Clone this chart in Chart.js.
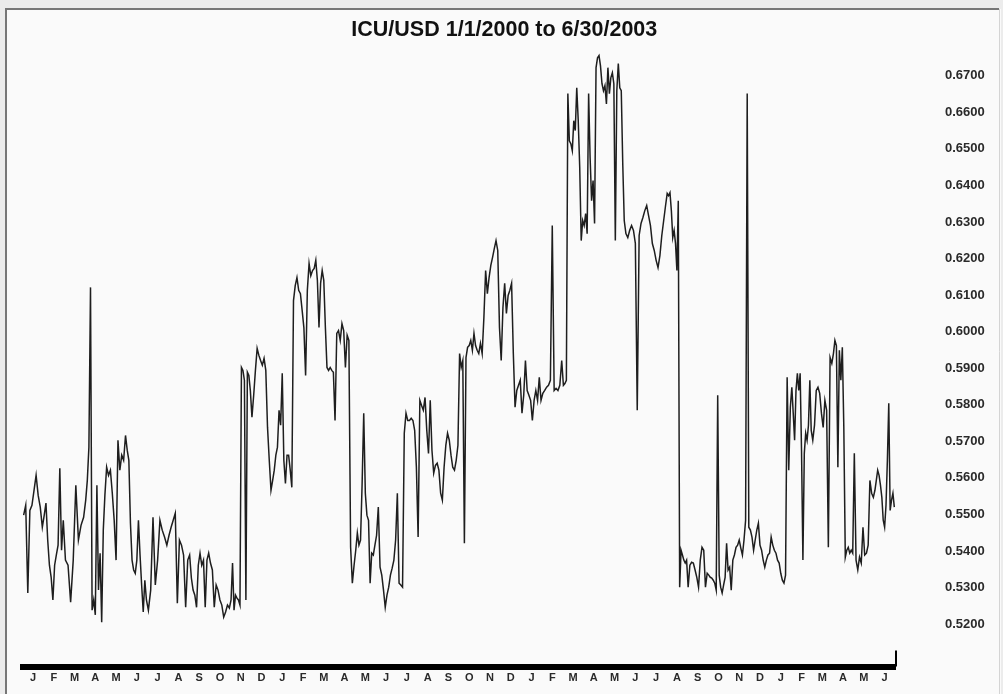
<!DOCTYPE html>
<html>
<head>
<meta charset="utf-8">
<script src="https://cdn.jsdelivr.net/npm/chart.js@4.4.1/dist/chart.umd.min.js"></script>
<style>
  html, body { margin: 0; padding: 0; background: #ececec; }
  canvas { display: block; }
</style>
</head>
<body>
<canvas id="icuChart" width="1003" height="694"></canvas>
<script>
// month initials along the bottom, Jan 2000 .. Jun 2003
const monthLabels = [
    'J', 'F', 'M', 'A', 'M', 'J', 'J', 'A', 'S', 'O', 'N', 'D',
    'J', 'F', 'M', 'A', 'M', 'J', 'J', 'A', 'S', 'O', 'N', 'D',
    'J', 'F', 'M', 'A', 'M', 'J', 'J', 'A', 'S', 'O', 'N', 'D',
    'J', 'F', 'M', 'A', 'M', 'J'
];

const yTickValues = [0.52, 0.53, 0.54, 0.55, 0.56, 0.57, 0.58, 0.59,
                     0.60, 0.61, 0.62, 0.63, 0.64, 0.65, 0.66, 0.67];

// ICU/USD quotes, one list per month, in date order
const rates2000 = [
    [0.5498, 0.5525, 0.5285, 0.5511, 0.5525, 0.5566, 0.5607, 0.5552, 0.5520, 0.5465],
    [0.5498, 0.5531, 0.5430, 0.5361, 0.5328, 0.5266, 0.5361, 0.5389, 0.5416, 0.5626, 0.5402, 0.5484],
    [0.5375, 0.5361, 0.5260, 0.5375, 0.5580, 0.5430, 0.5470, 0.5492],
    [0.5539, 0.5593, 0.5684, 0.6121, 0.5238, 0.5266, 0.5225, 0.5580, 0.5293, 0.5394, 0.5205, 0.5457, 0.5552],
    [0.5629, 0.5607, 0.5621, 0.5558, 0.5484, 0.5375, 0.5703, 0.5621, 0.5662, 0.5648, 0.5716],
    [0.5675, 0.5648, 0.5476, 0.5375, 0.5348, 0.5339, 0.5375, 0.5484, 0.5389, 0.5307, 0.5233, 0.5320, 0.5266],
    [0.5238, 0.5293, 0.5492, 0.5307, 0.5375, 0.5484, 0.5457, 0.5438, 0.5416],
    [0.5443, 0.5465, 0.5484, 0.5503, 0.5257, 0.5430, 0.5416, 0.5389, 0.5246, 0.5375],
    [0.5389, 0.5326, 0.5293, 0.5279, 0.5246, 0.5361, 0.5394, 0.5361, 0.5375, 0.5246, 0.5375, 0.5394],
    [0.5367, 0.5348, 0.5246, 0.5307, 0.5293, 0.5266, 0.5252, 0.5219, 0.5233, 0.5252, 0.5244],
    [0.5266, 0.5367, 0.5238, 0.5279, 0.5271, 0.5266, 0.5252, 0.5902, 0.5894, 0.5867, 0.5266, 0.5889, 0.5880, 0.5839],
    [0.5766, 0.5826, 0.5894, 0.5954, 0.5935, 0.5921, 0.5908, 0.5927, 0.5894, 0.5738, 0.5648, 0.5566]
];

const rates2001 = [
    [0.5593, 0.5621, 0.5662, 0.5684, 0.5785, 0.5744, 0.5886, 0.5648, 0.5585, 0.5662, 0.5662, 0.5621, 0.5574],
    [0.6085, 0.6126, 0.6148, 0.6113, 0.6104, 0.6058, 0.6011, 0.5880, 0.6113, 0.6186, 0.6153, 0.6167],
    [0.6173, 0.6195, 0.6140, 0.6011, 0.6132, 0.6167, 0.6140, 0.6011, 0.5902, 0.5894, 0.5902, 0.5894, 0.5889],
    [0.5757, 0.5995, 0.6003, 0.5976, 0.6022, 0.6003, 0.5902, 0.5990, 0.5976, 0.5410, 0.5312, 0.5361],
    [0.5402, 0.5449, 0.5416, 0.5430, 0.5585, 0.5777, 0.5558, 0.5498, 0.5484, 0.5312, 0.5394, 0.5389, 0.5416],
    [0.5443, 0.5520, 0.5356, 0.5334, 0.5293, 0.5246, 0.5279, 0.5301, 0.5334, 0.5353, 0.5375, 0.5430],
    [0.5558, 0.5312, 0.5307, 0.5301, 0.5722, 0.5777, 0.5757, 0.5757, 0.5763, 0.5757, 0.5730, 0.5629],
    [0.5438, 0.5812, 0.5798, 0.5785, 0.5820, 0.5730, 0.5667, 0.5812, 0.5675, 0.5613, 0.5634, 0.5640],
    [0.5621, 0.5558, 0.5539, 0.5629, 0.5689, 0.5722, 0.5703, 0.5662, 0.5629, 0.5621, 0.5648, 0.5689],
    [0.5940, 0.5902, 0.5921, 0.5421, 0.5929, 0.5957, 0.5962, 0.5976, 0.5949, 0.5995, 0.5962, 0.5949, 0.5940],
    [0.5968, 0.5940, 0.6039, 0.6167, 0.6104, 0.6148, 0.6181, 0.6203, 0.6227, 0.6249, 0.6222, 0.6011],
    [0.5921, 0.6066, 0.6132, 0.6050, 0.6099, 0.6113, 0.6132, 0.5940, 0.5793, 0.5839, 0.5853, 0.5867]
];

const rates2002 = [
    [0.5777, 0.5826, 0.5921, 0.5839, 0.5826, 0.5812, 0.5757, 0.5812, 0.5839, 0.5812, 0.5875, 0.5812],
    [0.5831, 0.5839, 0.5848, 0.5853, 0.5867, 0.6290, 0.5839, 0.5845, 0.5839, 0.5853, 0.5921],
    [0.5853, 0.5858, 0.5867, 0.6651, 0.6522, 0.6514, 0.6495, 0.6577, 0.6550, 0.6667, 0.6577, 0.6449, 0.6249, 0.6304],
    [0.6290, 0.6323, 0.6268, 0.6651, 0.6476, 0.6358, 0.6413, 0.6296, 0.6722, 0.6749, 0.6755, 0.6727, 0.6678, 0.6659],
    [0.6673, 0.6623, 0.6722, 0.6651, 0.6695, 0.6708, 0.6678, 0.6249, 0.6659, 0.6733, 0.6667, 0.6659, 0.6460, 0.6304],
    [0.6268, 0.6257, 0.6277, 0.6290, 0.6277, 0.6241, 0.5785, 0.6263, 0.6296, 0.6312, 0.6331],
    [0.6345, 0.6317, 0.6290, 0.6241, 0.6222, 0.6195, 0.6175, 0.6208, 0.6263, 0.6304, 0.6345],
    [0.6378, 0.6372, 0.6380, 0.6331, 0.6257, 0.6277, 0.6241, 0.6167, 0.6358, 0.5301, 0.5402, 0.5389, 0.5375, 0.5367, 0.5375],
    [0.5301, 0.5361, 0.5369, 0.5367, 0.5348, 0.5328, 0.5301, 0.5375, 0.5410, 0.5402, 0.5301, 0.5339],
    [0.5334, 0.5328, 0.5326, 0.5320, 0.5312, 0.5293, 0.5826, 0.5334, 0.5301, 0.5285, 0.5307, 0.5328, 0.5421, 0.5348],
    [0.5356, 0.5293, 0.5375, 0.5389, 0.5410, 0.5416, 0.5430, 0.5408, 0.5389, 0.5430, 0.5484, 0.6651, 0.5465],
    [0.5457, 0.5438, 0.5402, 0.5430, 0.5457, 0.5476, 0.5416, 0.5402, 0.5375, 0.5356, 0.5375, 0.5389, 0.5394]
];

const rates2003 = [
    [0.5438, 0.5416, 0.5402, 0.5394, 0.5375, 0.5367, 0.5339, 0.5320, 0.5312, 0.5334, 0.5875, 0.5621, 0.5793],
    [0.5848, 0.5777, 0.5703, 0.5839, 0.5886, 0.5839, 0.5886, 0.5675, 0.5375, 0.5667, 0.5722, 0.5703, 0.5744, 0.5867, 0.5730],
    [0.5703, 0.5744, 0.5839, 0.5848, 0.5831, 0.5777, 0.5738, 0.5812, 0.5785, 0.5410, 0.5929, 0.5913],
    [0.5940, 0.5976, 0.5962, 0.5629, 0.5949, 0.5867, 0.5957, 0.5738, 0.5383, 0.5402, 0.5410, 0.5394, 0.5402, 0.5394],
    [0.5667, 0.5375, 0.5348, 0.5383, 0.5367, 0.5465, 0.5389, 0.5394, 0.5416, 0.5593, 0.5558, 0.5547],
    [0.5566, 0.5593, 0.5621, 0.5607, 0.5580, 0.5547, 0.5484, 0.5465, 0.5525, 0.5648, 0.5804, 0.5511, 0.5539, 0.5558, 0.5520]
];

document.addEventListener('DOMContentLoaded', function () {
    if (typeof Chart === 'undefined') {
        console.error('Chart.js did not load.');
        return;
    }

    // quotes sit evenly inside their month, x measured in months from 1/1/2000
    const allMonths = rates2000.concat(rates2001, rates2002, rates2003);
    const points = [];
    allMonths.forEach(function (month, m) {
        month.forEach(function (rate, j) {
            points.push({ x: m + (j + 0.5) / month.length, y: rate });
        });
    });

    // grey picture frame and the small end tick on the time axis
    const framePlugin = {
        id: 'frame',
        beforeDraw: function (chart) {
            const ctx = chart.ctx;
            ctx.save();
            ctx.fillStyle = '#ececec';
            ctx.fillRect(0, 0, chart.width, chart.height);
            ctx.fillStyle = '#fafafa';
            ctx.fillRect(6, 9, chart.width - 8, chart.height - 9);
            ctx.strokeStyle = '#777777';
            ctx.lineWidth = 2;
            ctx.beginPath();
            ctx.moveTo(6, chart.height);
            ctx.lineTo(6, 9);
            ctx.lineTo(chart.width - 4, 9);
            ctx.stroke();
            ctx.strokeStyle = '#d4d4d4';
            ctx.lineWidth = 1;
            ctx.beginPath();
            ctx.moveTo(chart.width - 3.5, 9);
            ctx.lineTo(chart.width - 3.5, chart.height);
            ctx.stroke();
            ctx.restore();
        },
        afterDraw: function (chart) {
            const ctx = chart.ctx;
            const area = chart.chartArea;
            ctx.save();
            ctx.strokeStyle = '#000000';
            ctx.lineWidth = 2;
            ctx.beginPath();
            ctx.moveTo(area.right + 1, area.bottom - 16);
            ctx.lineTo(area.right + 1, area.bottom);
            ctx.stroke();
            ctx.restore();
        }
    };

    new Chart(document.getElementById('icuChart'), {
        type: 'line',
        data: {
            datasets: [{
                label: 'ICU/USD',
                data: points,
                borderColor: '#1e1e1e',
                borderWidth: 1.5,
                pointRadius: 0,
                tension: 0,
                fill: false
            }]
        },
        options: {
            responsive: false,
            animation: false,
            devicePixelRatio: 1,
            layout: {
                padding: { left: 22.6, right: 17, top: 0, bottom: 5.5 }
            },
            plugins: {
                legend: { display: false },
                tooltip: { enabled: false },
                title: {
                    display: true,
                    text: 'ICU/USD 1/1/2000 to 6/30/2003',
                    color: '#111111',
                    font: { family: 'Liberation Sans', size: 21.5, weight: 'bold' },
                    padding: { top: 17, bottom: 0 }
                }
            },
            scales: {
                x: {
                    type: 'linear',
                    min: 0,
                    max: 42,
                    grid: { display: false, drawTicks: false },
                    border: { display: true, color: '#000000', width: 6 },
                    afterBuildTicks: function (scale) {
                        scale.ticks = monthLabels.map(function (l, i) {
                            return { value: i + 0.5 };
                        });
                    },
                    afterFit: function (scale) {
                        scale.height = 22;
                    },
                    ticks: {
                        autoSkip: false,
                        maxRotation: 0,
                        padding: 5,
                        color: '#2a2a2a',
                        font: { family: 'Liberation Sans', size: 11, weight: 'bold' },
                        callback: function (value, index) {
                            return monthLabels[index];
                        }
                    }
                },
                y: {
                    position: 'right',
                    min: 0.5084,
                    max: 0.679,
                    grid: { display: false, drawTicks: false },
                    border: { display: false },
                    afterBuildTicks: function (scale) {
                        scale.ticks = yTickValues.map(function (v) {
                            return { value: v };
                        });
                    },
                    afterFit: function (scale) {
                        scale.width = 91;
                        scale.paddingTop = 0;
                        scale.paddingBottom = 0;
                    },
                    ticks: {
                        padding: 50,
                        color: '#2a2a2a',
                        font: { family: 'Liberation Sans', size: 13, weight: 'bold' },
                        callback: function (value) {
                            return Number(value).toFixed(4);
                        }
                    }
                }
            }
        },
        plugins: [framePlugin]
    });
});
</script>
</body>
</html>
